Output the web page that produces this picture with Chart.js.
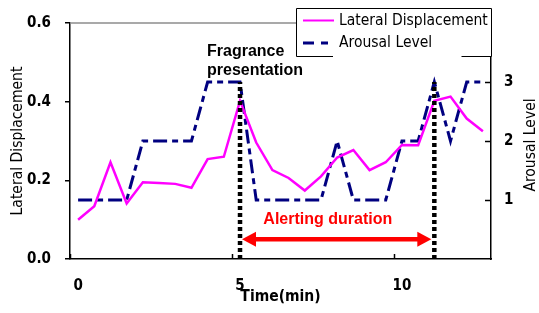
<!DOCTYPE html>
<html>
<head>
<meta charset="utf-8">
<script src="https://cdn.jsdelivr.net/npm/chart.js@4.4.0/dist/chart.umd.min.js"></script>
<style>
  html, body { margin: 0; padding: 0; background: #fff; }
</style>
</head>
<body>
<canvas id="chart" width="539" height="313"></canvas>
<script>
// time axis (min), one sample every half minute
const timeMin = [0, 0.5, 1, 1.5, 2, 2.5, 3, 3.5, 4, 4.5, 5, 5.5, 6, 6.5,
                 7, 7.5, 8, 8.5, 9, 9.5, 10, 10.5, 11, 11.5, 12, 12.5];
const lateralDisp = [0.100, 0.134, 0.246, 0.141, 0.195, 0.193, 0.191, 0.181, 0.254, 0.260,
                     0.402, 0.296, 0.226, 0.206, 0.174, 0.210, 0.258, 0.277, 0.226, 0.246,
                     0.290, 0.289, 0.402, 0.413, 0.357, 0.325];
const arousal = [1, 1, 1, 1, 2, 2, 2, 2, 3, 3, 3, 1, 1, 1, 1, 1, 2, 1, 1, 1, 2, 2, 3, 2, 3, 3];

const xTicks = [0, 5, 10];
const yLeftTicks = [0, 0.2, 0.4, 0.6];
const yRightTicks = [1, 2, 3];

// fragrance presentation start / end of alerting period (min)
const events = [5, 11];
const eventTop = 3;        // dotted markers reach arousal level 3
const arrowLevel = 0.05;   // alerting-duration arrow height (lateral scale)

const TAHOMA = "'DejaVu Sans Condensed', 'DejaVu Sans', sans-serif";
const ARIAL = "'Liberation Sans', Arial, sans-serif";

const pts = (xs, ys) => xs.map((x, i) => ({ x: x, y: ys[i] }));

// extra drawing: inward ticks, arrow, notes, axis titles, legend box
const decor = {
  id: 'decor',
  afterDraw(chart) {
    const c = chart.ctx, a = chart.chartArea;
    const sx = chart.scales.x, sy = chart.scales.y, sr = chart.scales.y1;
    c.save();

    // top frame line (grey)
    c.strokeStyle = '#8c8c8c';
    c.lineWidth = 1.5;
    c.beginPath();
    c.moveTo(a.left, a.top);
    c.lineTo(a.right, a.top);
    c.stroke();

    // x tick marks sit between categories, pointing inward
    c.strokeStyle = '#000';
    c.lineWidth = 1.5;
    xTicks.forEach(v => {
      const px = Math.round(sx.getPixelForValue(v - 0.25)) + 0.5;
      c.beginPath();
      c.moveTo(px, a.bottom);
      c.lineTo(px, a.bottom - 5);
      c.stroke();
    });
    // right axis ticks, inward
    yRightTicks.forEach(v => {
      const py = Math.round(sr.getPixelForValue(v)) + 0.5;
      c.beginPath();
      c.moveTo(a.right, py);
      c.lineTo(a.right - 6, py);
      c.stroke();
    });

    // alerting duration arrow
    const ay = sy.getPixelForValue(arrowLevel);
    const x1 = sx.getPixelForValue(events[0]) + 2;
    const x2 = sx.getPixelForValue(events[1]) - 3;
    c.strokeStyle = '#ff0000';
    c.fillStyle = '#ff0000';
    c.lineWidth = 4.5;
    c.beginPath();
    c.moveTo(x1 + 10, ay);
    c.lineTo(x2 - 10, ay);
    c.stroke();
    c.beginPath();
    c.moveTo(x1, ay); c.lineTo(x1 + 14, ay - 7.5); c.lineTo(x1 + 14, ay + 7.5); c.closePath();
    c.fill();
    c.beginPath();
    c.moveTo(x2, ay); c.lineTo(x2 - 14, ay - 7.5); c.lineTo(x2 - 14, ay + 7.5); c.closePath();
    c.fill();

    // notes
    c.font = 'bold 16px ' + ARIAL;
    c.textAlign = 'left';
    c.textBaseline = 'middle';
    c.fillText('Alerting duration', sx.getPixelForValue(5.72), sy.getPixelForValue(0.101));
    c.fillStyle = '#000';
    c.fillText('Fragrance', sx.getPixelForValue(3.98), sy.getPixelForValue(0.527));
    c.fillText('presentation', sx.getPixelForValue(3.98), sy.getPixelForValue(0.479));

    // axis titles
    c.font = '15.5px ' + TAHOMA;
    c.textAlign = 'center';
    c.save();
    c.translate(18, (a.top + a.bottom) / 2);
    c.rotate(-Math.PI / 2);
    c.fillText('Lateral Displacement', 0, 0);
    c.restore();
    c.save();
    c.translate(531, (a.top + a.bottom) / 2 + 4);
    c.rotate(-Math.PI / 2);
    c.fillText('Arousal Level', 0, 0);
    c.restore();
    c.font = 'bold 15.5px ' + TAHOMA;
    c.fillText('Time(min)', (a.left + a.right) / 2, 297);

    // legend box
    const L = 296.5, R = a.right + 0.5, T = 8.5, B = 56.5;
    c.fillStyle = '#fff';
    c.fillRect(L, T, R - L, B - T);
    c.strokeStyle = '#000';
    c.lineWidth = 1;
    c.beginPath();
    c.moveTo(333, B); c.lineTo(L, B); c.lineTo(L, T); c.lineTo(R, T); c.lineTo(R, B); c.lineTo(461.5, B);
    c.stroke();
    c.lineWidth = 2;
    c.strokeStyle = '#ff00ff';
    c.beginPath(); c.moveTo(303, 20.5); c.lineTo(334, 20.5); c.stroke();
    c.lineWidth = 3;
    c.strokeStyle = '#000080';
    c.setLineDash([11, 7, 7, 30]);
    c.beginPath(); c.moveTo(303, 43); c.lineTo(334, 43); c.stroke();
    c.setLineDash([]);
    c.fillStyle = '#000';
    c.font = '15.5px ' + TAHOMA;
    c.textAlign = 'left';
    c.fillText('Lateral Displacement', 339, 21);
    c.fillText('Arousal Level', 339, 43);

    c.restore();
  }
};

const ctx = document.getElementById('chart').getContext('2d');
new Chart(ctx, {
  type: 'line',
  data: {
    datasets: [
      {
        label: 'Lateral Displacement',
        data: pts(timeMin, lateralDisp),
        yAxisID: 'y',
        borderColor: '#ff00ff',
        borderWidth: 2.5,
        pointRadius: 0,
        tension: 0,
        order: 1
      },
      {
        label: 'Arousal Level',
        data: pts(timeMin, arousal),
        yAxisID: 'y1',
        borderColor: '#000080',
        borderWidth: 3,
        borderDash: [14, 5, 6, 5],
        pointRadius: 0,
        tension: 0,
        order: 2
      },
      ...events.map(t => ({
        label: 'event',
        data: [{ x: t, y: 0 }, { x: t, y: eventTop }],
        yAxisID: 'y1',
        borderColor: '#000',
        borderWidth: 4.5,
        borderDash: [4, 3],
        pointRadius: 0,
        order: 0
      }))
    ]
  },
  options: {
    responsive: false,
    animation: false,
    layout: { padding: { top: 21, left: 0, right: 0, bottom: 0 } },
    plugins: {
      legend: { display: false },
      tooltip: { enabled: false },
      title: { display: false }
    },
    scales: {
      x: {
        type: 'linear',
        min: -0.25,
        max: 12.75,
        afterBuildTicks: s => { s.ticks = xTicks.map(v => ({ value: v })); },
        afterFit: s => { s.height = 54; },
        grid: { drawOnChartArea: false, drawTicks: false },
        border: { display: true, color: '#000', width: 1.5 },
        ticks: {
          color: '#000',
          padding: 18,
          maxRotation: 0,
          font: { family: TAHOMA, size: 15, weight: 'bold' }
        }
      },
      y: {
        position: 'left',
        min: 0,
        max: 0.6,
        afterBuildTicks: s => { s.ticks = yLeftTicks.map(v => ({ value: v })); },
        afterFit: s => { s.width = 70; },
        grid: { drawOnChartArea: false, drawTicks: true, tickLength: 5, color: '#000', lineWidth: 1.5 },
        border: { display: true, color: '#000', width: 1.5 },
        ticks: {
          color: '#000',
          padding: 14,
          callback: v => v.toFixed(1),
          font: { family: TAHOMA, size: 15, weight: 'bold' }
        }
      },
      y1: {
        position: 'right',
        min: 0,
        max: 4,
        afterBuildTicks: s => { s.ticks = yRightTicks.map(v => ({ value: v })); },
        afterFit: s => { s.width = 48; },
        grid: { drawOnChartArea: false, drawTicks: false },
        border: { display: true, color: '#000', width: 1.5 },
        ticks: {
          color: '#000',
          padding: 13,
          font: { family: TAHOMA, size: 15, weight: 'bold' }
        }
      }
    }
  },
  plugins: [decor]
});
</script>
</body>
</html>
